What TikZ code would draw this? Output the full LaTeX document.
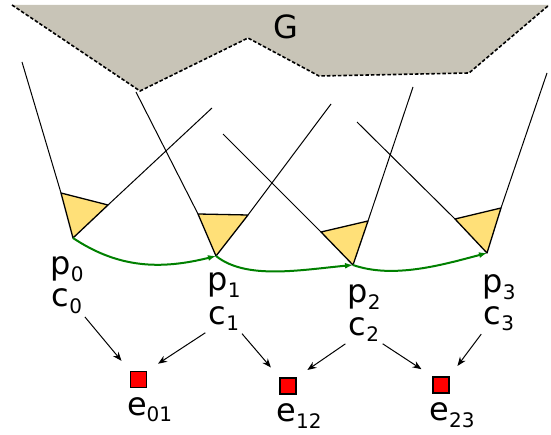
\documentclass[tikz,border=0pt]{standalone}
\usepackage{fontspec}
\setmainfont{DejaVu Sans}
\usepackage{tikz}
\usetikzlibrary{arrows,arrows.meta}
\definecolor{ground}{RGB}{200,196,183}
\definecolor{camfill}{RGB}{255,224,120}
\definecolor{movegreen}{RGB}{0,128,0}
\newcommand{\ix}[1]{\raisebox{-0.2em}{\fontsize{20pt}{20pt}\selectfont #1}}

\begin{document}
\begin{tikzpicture}[x=1pt, y=-1pt,
  lbl/.style={anchor=base, inner sep=0pt, font=\fontsize{32pt}{32pt}\selectfont},
  ray/.style={black, line width=1pt},
  cam/.style={fill=camfill, draw=black, line width=1.3pt, line join=round},
  move/.style={-{Latex[length=8pt,width=6pt]}, movegreen, line width=2pt},
  link/.style={-{Stealth[length=9pt,width=7pt]}, black, line width=1pt, shorten <=4pt, shorten >=13pt},
  sq/.style={draw=black, fill=red, line width=1.3pt, minimum size=16pt, inner sep=0pt}]
\useasboundingbox (0,0) rectangle (551,435);
%%%%% Scene %%%%%
\fill[ground] (12,5) -- (140,91) -- (248,38) -- (319,76) -- (469,73) -- (549,5) -- cycle;
\draw[line width=1.6pt, dash pattern=on 3.5pt off 2pt] (12,5) -- (140,91) -- (248,38) -- (319,76) -- (469,73) -- (549,5);
\node[lbl] (G) at (286,39) {G};
%%%%% Cameras %%%%%
\coordinate (p0) at (73,238);
\coordinate (p1) at (216,256);
\coordinate (p2) at (353,265);
\coordinate (p3) at (487,253);
\draw[ray] (22,62) -- (61,193);   \draw[ray] (108,205) -- (212,108);
\draw[ray] (136,92) -- (198,214); \draw[ray] (248,215) -- (331,104);
\draw[ray] (223,134) -- (321,232); \draw[ray] (368,221) -- (413,87);
\draw[ray] (357,122) -- (455,219); \draw[ray] (501,208) -- (547,73);
\filldraw[cam] (61,193) -- (108,205) -- (p0) -- cycle;
\filldraw[cam] (198,214) -- (248,215) -- (p1) -- cycle;
\filldraw[cam] (321,232) -- (368,221) -- (p2) -- cycle;
\filldraw[cam] (455,219) -- (501,208) -- (p3) -- cycle;
\draw[move] (p0) .. controls +(45,30) and +(-56,14) .. (p1);
\draw[move] (p1) .. controls +(30,24) and +(-53,5) .. (p2);
\draw[move] (p2) .. controls +(40,14) and +(-45,12) .. (p3);
%%%%% Labels %%%%%
\foreach \i/\x/\yp/\yc in {0/67/275/307, 1/224/291/324, 2/364/303/335, 3/499/293/324}{
  \node[lbl] (lp\i) at (\x,\yp) {p\ix{\i}};
  \node[lbl] (lc\i) at (\x,\yc) {c\ix{\i}};
}
%%%%% Errors %%%%%
\node[sq] (e01) at (138.5,379.5) {};
\node[sq] (e12) at (288,386) {};
\node[sq] (e23) at (441,385) {};
\foreach \e/\t in {e01/01, e12/12, e23/23}{
  \node[lbl, anchor=base west] (l\e) at ([xshift=-3pt, yshift=-27pt]\e.south west) {e\ix{\t}};
}
\draw[link] (lc0.south east) -- (e01.north west);
\draw[link] (lc1.south west) -- (e01.north east);
\draw[link] (lc1.south east) -- (e12.north west);
\draw[link] (lc2.south west) -- (e12.north east);
\draw[link] (lc2.south east) -- (e23.north west);
\draw[link] (lc3.south west) -- (e23.north east);
\end{tikzpicture}
\end{document}
